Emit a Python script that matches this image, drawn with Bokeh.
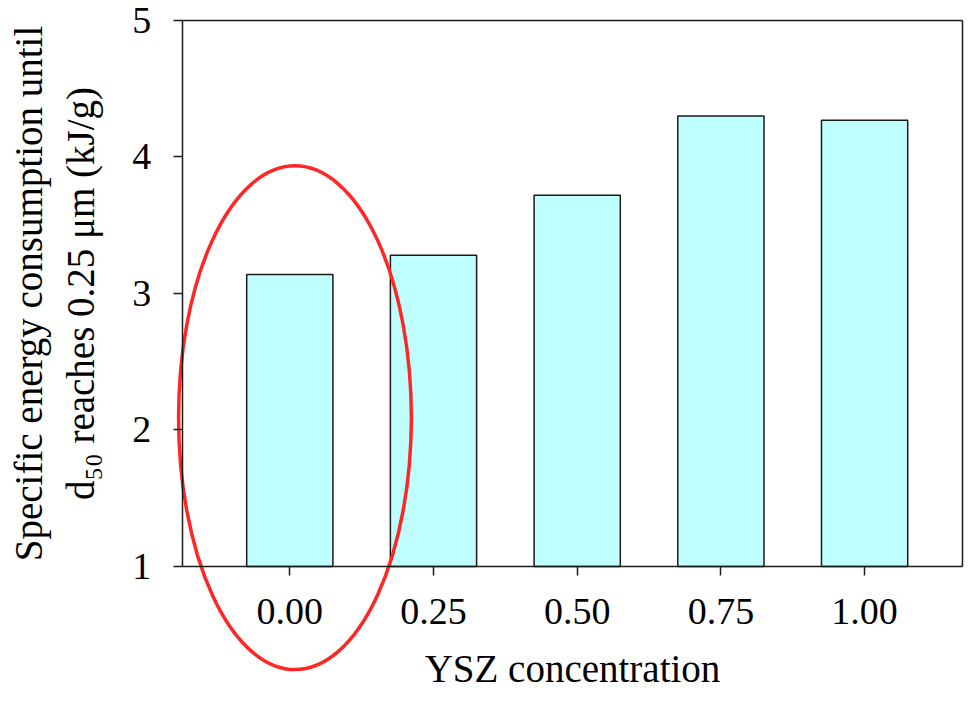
from bokeh.plotting import figure
from bokeh.models import Range1d, FixedTicker, LinearAxis, ColumnDataSource
from bokeh.embed import file_html
from bokeh.resources import INLINE

# data
concentration = [0.00, 0.25, 0.50, 0.75, 1.00]
energy = [3.14, 3.28, 3.72, 4.30, 4.27]
x_tick_labels = {0.0: "0.00", 0.25: "0.25", 0.5: "0.50", 0.75: "0.75", 1.0: "1.00"}
y_ticks = [1, 2, 3, 4, 5]

# visible axis box (data units)
X0, X1 = -0.187, 1.170
Y0, Y1 = 1, 5

# highlight ellipse (data units)
ell_cx, ell_cy = 0.009, 2.09
ell_w, ell_h = 0.405, 3.69

FONT = "Liberation Serif"
INK = "#1a1a1a"

p = figure(width=964, height=691, output_backend="svg", toolbar_location=None,
           x_range=Range1d(-0.5033, 1.1738), y_range=Range1d(0.0842, 5.1465),
           x_axis_location=None, y_axis_location=None,
           min_border_left=0, min_border_right=0, min_border_top=0, min_border_bottom=0)

src = ColumnDataSource(dict(x=concentration, top=energy))
p.vbar(x="x", top="top", bottom=Y0, width=0.15, source=src,
       fill_color="#C0FFFF", line_color=INK, line_width=1.5)

p.ellipse(x=ell_cx, y=ell_cy, width=ell_w, height=ell_h,
          fill_color=None, line_color="#FF2626", line_width=3.5)

p.xgrid.visible = False
p.ygrid.visible = False
p.outline_line_color = None
p.background_fill_color = "white"
p.border_fill_color = "white"

bottom_axis = LinearAxis(ticker=FixedTicker(ticks=concentration))
left_axis = LinearAxis(ticker=FixedTicker(ticks=y_ticks))
top_axis = LinearAxis(ticker=FixedTicker(ticks=[]))
right_axis = LinearAxis(ticker=FixedTicker(ticks=[]))

for ax in (bottom_axis, left_axis, top_axis, right_axis):
    ax.axis_line_color = INK
    ax.axis_line_width = 1.5
    ax.major_tick_line_color = INK
    ax.major_tick_line_width = 1.5
    ax.major_tick_in = 0
    ax.major_tick_out = 9
    ax.minor_tick_line_color = None
    ax.major_label_text_font = FONT
    ax.major_label_text_font_size = "38px"
    ax.major_label_text_color = "black"
    ax.axis_label_text_font = FONT
    ax.axis_label_text_font_size = "39px"
    ax.axis_label_text_font_style = "normal"
    ax.axis_label_text_color = "black"

bottom_axis.fixed_location = Y0
bottom_axis.bounds = (X0, X1)
bottom_axis.major_label_overrides = x_tick_labels
bottom_axis.major_label_standoff = 24
bottom_axis.axis_label = "YSZ concentration"
bottom_axis.axis_label_standoff = 19

left_axis.fixed_location = X0
left_axis.bounds = (Y0, Y1)
left_axis.major_label_standoff = 22
left_axis.axis_label = "Specific energy consumption until\nd\u2085\u2080 reaches 0.25 \u03bcm (kJ/g)"
left_axis.axis_label_standoff = 28

top_axis.fixed_location = Y1
top_axis.bounds = (X0, X1)
right_axis.fixed_location = X1
right_axis.bounds = (Y0, Y1)

p.add_layout(bottom_axis, "below")
p.add_layout(left_axis, "left")
p.add_layout(top_axis, "above")
p.add_layout(right_axis, "right")

open("out.html", "w").write(file_html(p, INLINE))
